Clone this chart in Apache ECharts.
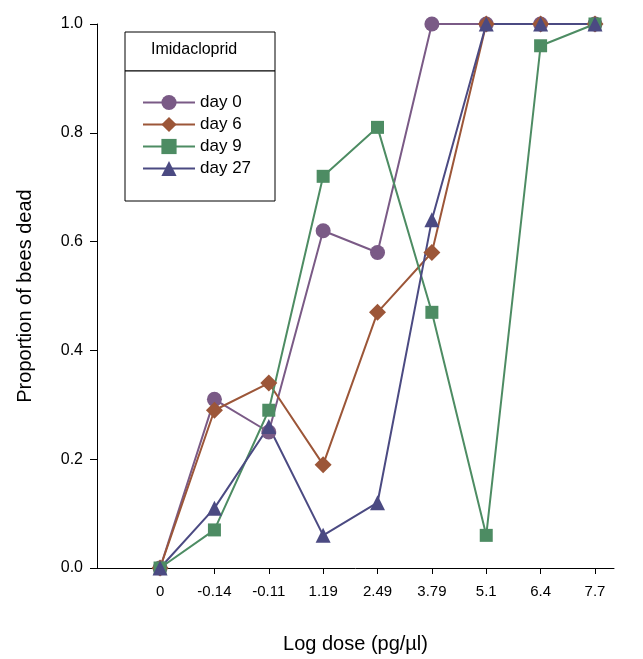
<!DOCTYPE html>
<html><head><meta charset="utf-8">
<script src="https://cdn.jsdelivr.net/npm/echarts@6/dist/echarts.min.js"></script>
<style>html,body{margin:0;padding:0;background:#fff}#c{width:643px;height:659px}</style>
</head><body><div id="c"></div>
<script>
const categories = ['0','-0.14','-0.11','1.19','2.49','3.79','5.1','6.4','7.7'];
const day0 = [0,0.31,0.25,0.62,0.58,1.0,1.0,1.0,1.0];
const day6 = [0,0.29,0.34,0.19,0.47,0.58,1.0,1.0,1.0];
const day9 = [0,0.07,0.29,0.72,0.81,0.47,0.06,0.96,1.0];
const day27 = [0,0.11,0.26,0.06,0.12,0.64,1.0,1.0,1.0];

function mk(name, vals, color, symbol, size){
  return {name, type:'line', data: vals.map((v,i)=>[i,v]), symbol, symbolSize:size,
    lineStyle:{color, width:2}, itemStyle:{color}};
}
const chart = echarts.init(document.getElementById('c'));
chart.setOption({
  animation:false,
  textStyle:{fontFamily:'Arial, Liberation Sans, sans-serif'},
  grid:{left:97, top:24, right:29, bottom:91},
  xAxis:{type:'value', min:-1.16, max:8.35, interval:1,
    name:'Log dose (pg/µl)', nameLocation:'middle', nameGap:66,
    nameTextStyle:{fontSize:20, color:'#000'},
    axisLine:{onZero:false, lineStyle:{color:'#000', width:1}},
    axisTick:{show:true, length:6, lineStyle:{color:'#000'}, customValues:[0,1,2,3,4,5,6,7,8]},
    axisLabel:{fontSize:15, color:'#000', margin:16, customValues:[0,1,2,3,4,5,6,7,8],
      formatter:v=>categories[Math.round(v)]||''},
    splitLine:{show:false}},
  yAxis:{type:'value', min:0, max:1, interval:0.2,
    name:'Proportion of bees dead', nameLocation:'middle', nameGap:62,
    nameTextStyle:{fontSize:20, color:'#000'},
    axisLine:{show:true, onZero:false, lineStyle:{color:'#000'}},
    axisTick:{show:true, length:7, lineStyle:{color:'#000'}},
    axisLabel:{fontSize:16, color:'#000', margin:14, formatter:v=>v.toFixed(1)},
    splitLine:{show:false}},
  legend:{orient:'vertical', left:137, top:89, itemGap:5, itemWidth:52, itemHeight:19,
    textStyle:{fontSize:17, color:'#000'}, data:['day 0','day 6','day 9','day 27']},
  graphic:[
    {type:'rect', shape:{x:125,y:32,width:150,height:39}, style:{fill:'#fff', stroke:'#000', lineWidth:1}, z:-1},
    {type:'rect', shape:{x:125,y:71,width:150,height:130}, style:{fill:'#fff', stroke:'#000', lineWidth:1}, z:-1},
    {type:'text', left:151, top:42, style:{text:'Imidacloprid', fontSize:16, fill:'#000'}}
  ],
  series:[
    mk('day 0', day0, '#7a5a86', 'circle', 15),
    mk('day 6', day6, '#9c5638', 'diamond', 17),
    mk('day 9', day9, '#4d8c63', 'rect', 13),
    mk('day 27', day27, '#4b4a82', 'triangle', 15)
  ]
});
</script></body></html>
